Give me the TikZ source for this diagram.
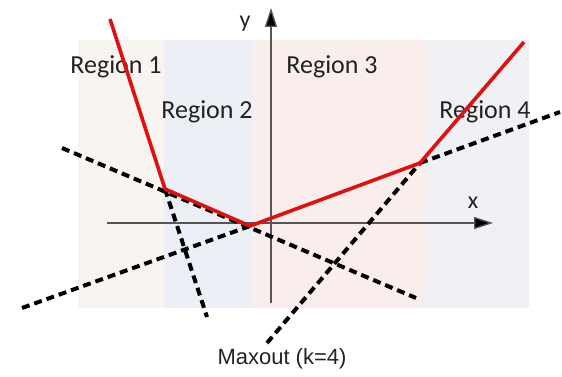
\documentclass[tikz,border=0pt]{standalone}
\usepackage{fontspec}
\setmainfont{Carlito}
\newfontfamily\arialfont{Liberation Sans}
\usetikzlibrary{arrows.meta}
\definecolor{rone}{HTML}{F8F5F0}
\definecolor{rtwo}{HTML}{EDEFF6}
\definecolor{rthree}{HTML}{F9EEEC}
\definecolor{rfour}{HTML}{EFF1F4}
\definecolor{redline}{HTML}{E01010}
\definecolor{axisgrey}{HTML}{555555}
\definecolor{txt}{HTML}{222222}
\tikzset{
  regionlabel/.style={text=txt,font=\fontsize{26}{30}\selectfont,inner sep=0pt},
  axislabel/.style={text=txt,font=\fontsize{24}{28}\selectfont,inner sep=0pt},
  axisline/.style={axisgrey,line width=1.3pt,-{Triangle[length=19pt,width=12pt,fill=black]}},
  dashline/.style={black,line width=4pt,dash pattern=on 8pt off 5pt},
  maxline/.style={redline,line width=3.6pt,line join=round}
}
\begin{document}
\begin{tikzpicture}[x=1pt,y=-1pt]
\useasboundingbox (0,0) rectangle (562,377);
% regions
\fill[rone] (78,40) rectangle (164,308);
\fill[rtwo] (164,40) rectangle (253,308);
\fill[rthree] (253,40) rectangle (425,308);
\fill[rfour] (425,40) rectangle (529,308);
% axes
\coordinate (xs) at (107,223);
\coordinate (xe) at (493,223);
\coordinate (ys) at (271,303);
\coordinate (ye) at (271,8);
\draw[axisline] (xs) -- (xe);
\draw[axisline] (ys) -- (ye);
\node[axislabel] (ylab) at (245,24) {y};
\node[axislabel] (xlab) at (473,203) {x};
% labels
\node[regionlabel] (r1) at (116,67) {Region 1};
\node[regionlabel] (r2) at (207,112) {Region 2};
\node[regionlabel] (r3) at (332,67) {Region 3};
\node[regionlabel] (r4) at (485,112) {Region 4};
% coordinates
\coordinate (p0) at (110,19);
\coordinate (p1) at (165,189);
\coordinate (p2) at (250,226);
\coordinate (p3) at (420,163);
\coordinate (p4) at (524,42);
\coordinate (a0) at (62,148);
\coordinate (a1) at (416,298);
\coordinate (b1) at (207,317);
\coordinate (c0) at (22,308);
\coordinate (c1) at (560,112);
\coordinate (e0) at (267,343);
% dashed lines
\draw[dashline] (a0) -- (a1);
\draw[dashline] (p1) -- (b1);
\draw[dashline] (c0) -- (p2);
\draw[dashline] (p3) -- (c1);
\draw[dashline] (e0) -- (p3);
% maxout
\draw[maxline] (p0) -- (p1) -- (p2) -- (p3) -- (p4);
\node[text=txt,font=\arialfont\fontsize{22}{26}\selectfont,inner sep=0pt] (cap) at (282,359) {Maxout (k=4)};
\end{tikzpicture}
\end{document}
